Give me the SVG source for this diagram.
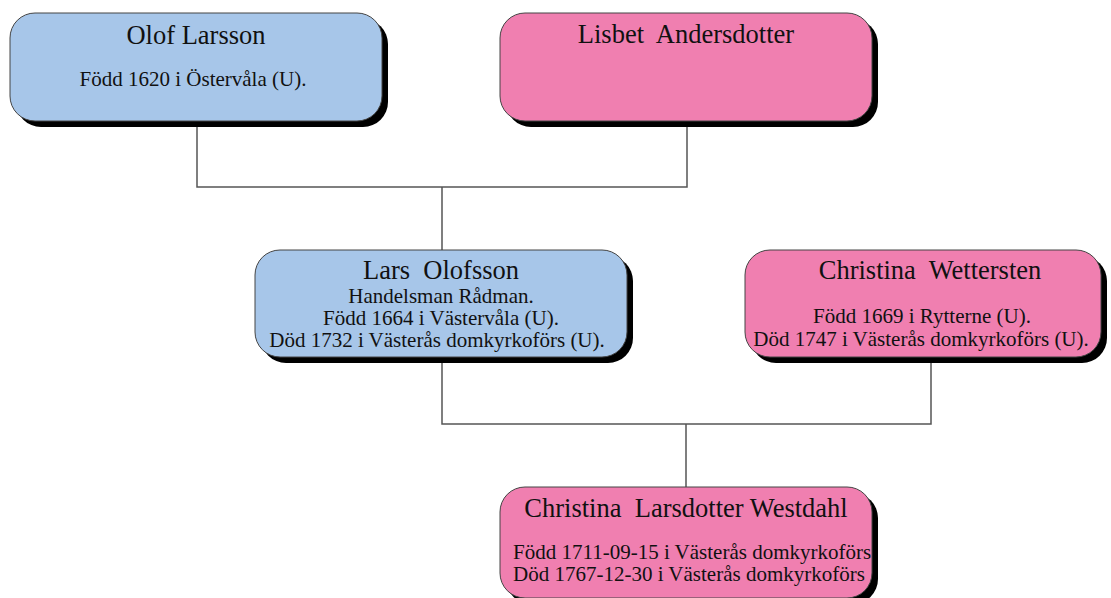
<svg xmlns="http://www.w3.org/2000/svg" width="1111" height="598" viewBox="0 0 1111 598">
<defs>
<style>
.shadow{fill:#000}
.box{stroke:#444;stroke-width:1}
.m{fill:#A7C6E9}
.f{fill:#F07FB0}
.t{font-family:"Liberation Serif","Times New Roman",serif;fill:#111;white-space:pre}
.title{font-size:26.5px}
.info{font-size:21px}
.conn{fill:none;stroke:#555;stroke-width:1.5}
</style>
<clipPath id="c5"><rect x="500" y="487" width="372" height="111" rx="25"/></clipPath>
</defs>
<rect width="1111" height="598" fill="#fff"/>
<g id="connectors">
<polyline class="conn" points="197,121 197,187 687,187 687,121"/>
<line class="conn" x1="442" y1="187" x2="442" y2="250"/>
<polyline class="conn" points="442,357 442,424 931,424 931,357"/>
<line class="conn" x1="686" y1="424" x2="686" y2="487"/>
</g>
<g id="olof">
<rect class="shadow" x="16" y="19" width="372" height="108" rx="25"/>
<rect class="box m" x="10" y="13" width="372" height="108" rx="25"/>
<text class="t title" x="196" y="44" text-anchor="middle">Olof Larsson</text>
<text class="t info" x="193" y="86" text-anchor="middle">Född 1620 i Östervåla (U).</text>
</g>
<g id="lisbet">
<rect class="shadow" x="506" y="19" width="372" height="108" rx="25"/>
<rect class="box f" x="500" y="13" width="372" height="108" rx="25"/>
<text class="t title" x="686" y="43" text-anchor="middle">Lisbet  Andersdotter</text>
</g>
<g id="lars">
<rect class="shadow" x="261" y="256" width="372" height="107" rx="25"/>
<rect class="box m" x="255" y="250" width="372" height="107" rx="25"/>
<text class="t title" x="441" y="279" text-anchor="middle">Lars  Olofsson</text>
<text class="t info" x="441" y="303" text-anchor="middle">Handelsman Rådman.</text>
<text class="t info" x="441" y="325" text-anchor="middle">Född 1664 i Västervåla (U).</text>
<text class="t info" x="437" y="347" text-anchor="middle">Död 1732 i Västerås domkyrkoförs (U).</text>
</g>
<g id="christina-w">
<rect class="shadow" x="751" y="256" width="356" height="107" rx="25"/>
<rect class="box f" x="745" y="250" width="356" height="107" rx="25"/>
<text class="t title" x="930" y="279" text-anchor="middle">Christina  Wettersten</text>
<text class="t info" x="922" y="323" text-anchor="middle">Född 1669 i Rytterne (U).</text>
<text class="t info" x="921" y="346" text-anchor="middle">Död 1747 i Västerås domkyrkoförs (U).</text>
</g>
<g id="christina-l">
<rect class="shadow" x="506" y="493" width="372" height="111" rx="25"/>
<rect class="box f" x="500" y="487" width="372" height="111" rx="25"/>
<text class="t title" x="686" y="517" text-anchor="middle">Christina  Larsdotter Westdahl</text>
<g clip-path="url(#c5)">
<text class="t info" x="513" y="559">Född 1711-09-15 i Västerås domkyrkoförs</text>
<text class="t info" x="513" y="581">Död 1767-12-30 i Västerås domkyrkoförs</text>
</g>
</g>
</svg>
